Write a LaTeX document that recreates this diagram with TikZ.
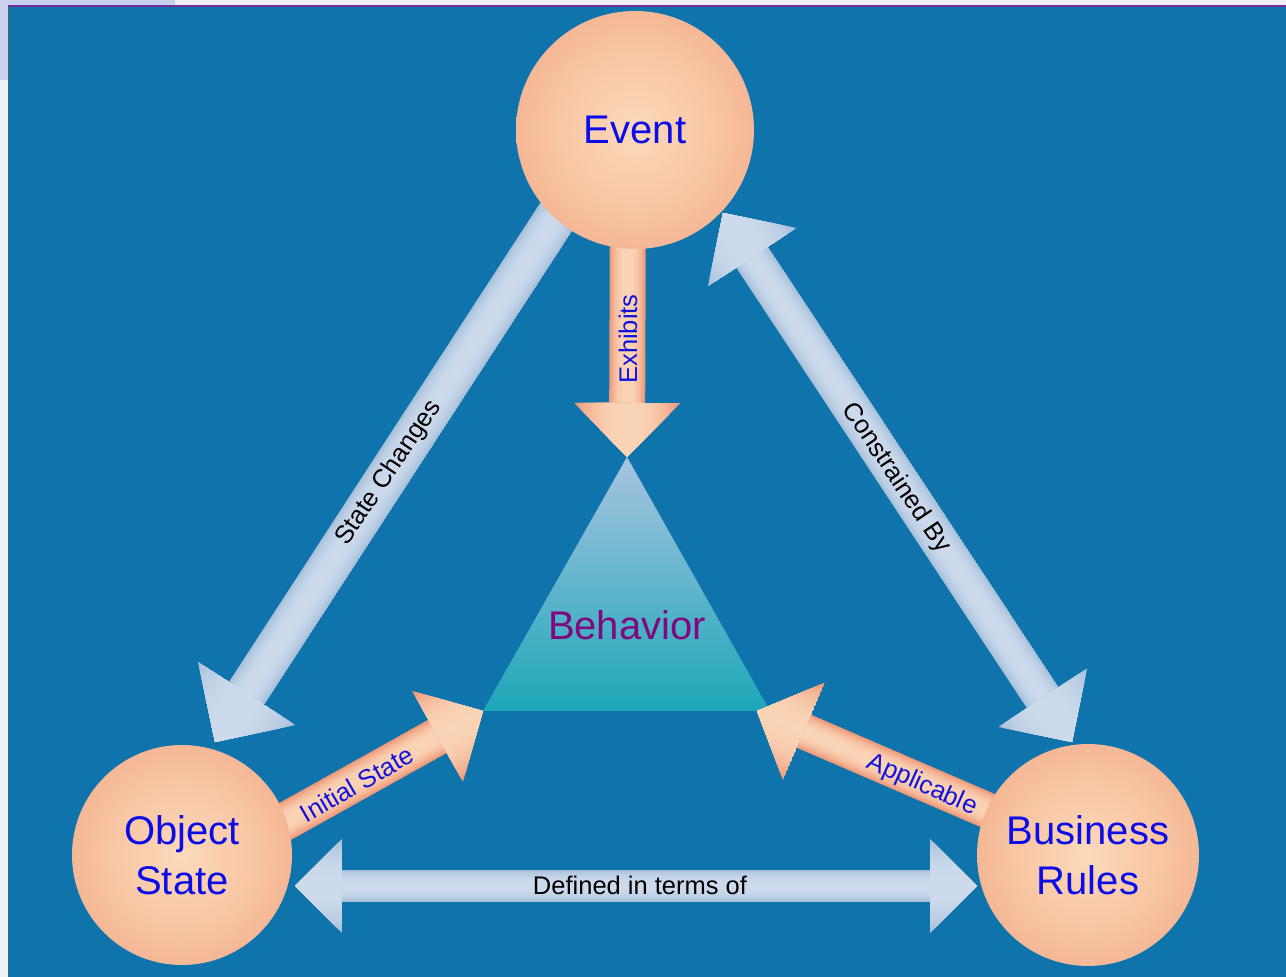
\documentclass[tikz,border=0pt]{standalone}
\usepackage{fontspec}
\setmainfont{Liberation Sans}
\usetikzlibrary{calc}
\definecolor{bgblue}{HTML}{0F74AC}
\definecolor{pagebg}{HTML}{EEF1F8}
\definecolor{cornerbg}{HTML}{C9D1EE}
\definecolor{topline}{HTML}{7B2C9C}
\definecolor{edgeline}{HTML}{505860}
\definecolor{peachC}{HTML}{FCDABA}
\definecolor{peachA}{HTML}{F8C6A4}
\definecolor{peachM}{HTML}{F1A684}
\definecolor{peachE}{HTML}{E88C6C}
\definecolor{salC}{HTML}{FAD4B6}
\definecolor{salE}{HTML}{EE9878}
\definecolor{skyC}{HTML}{CCDAEC}
\definecolor{skyE}{HTML}{A8C0DA}
\definecolor{triTop}{HTML}{A8C4E0}
\definecolor{triMid}{HTML}{5CB4CC}
\definecolor{triBot}{HTML}{1CA7B8}
\definecolor{lblblue}{HTML}{1212DC}
\definecolor{nodeblue}{HTML}{0C0CE8}
\definecolor{behpurple}{HTML}{82067E}
\pgfdeclareradialshading{ballshade}{\pgfpoint{0bp}{0bp}}{color(0bp)=(peachC); color(16bp)=(peachA); color(36bp)=(peachM); color(50bp)=(peachE)}
\makeatletter
% gradient across the arrow axis: lines from #1 to #2, half width #3
\newcommand\fagrad[5]{%
  \foreach \k in {0,...,15}{%
    \pgfmathsetmacro\faW{2*#3*(1-\k/16)}%
    \pgfmathtruncatemacro\faP{100*(1-(1-\k/15)^2.4)}%
    \draw[line width=\faW pt, color=#4!\faP!#5] (#1,0) -- (#2,0);
  }}
% #1 tail, #2 tip, #3 shaft half width, #4 head half width, #5 head length,
% #6 centre colour, #7 edge colour, #8 double (1) or single (0)
\newcommand\fatarrow[8]{%
  \pgfpointdiff{\pgfpointanchor{#1}{center}}{\pgfpointanchor{#2}{center}}%
  \edef\faDx{\the\pgf@x}\edef\faDy{\the\pgf@y}%
  \pgfmathsetmacro\faAng{atan2(\faDy,\faDx)}%
  \pgfmathsetmacro\faLen{veclen(\faDx,\faDy)}%
  \pgfmathsetmacro\faB{\faLen-#5}%
  \ifnum#8=1 \def\faA{#5}\else\def\faA{0}\fi
  \begin{scope}[shift={(#1)},rotate=\faAng]
    \begin{scope}
      \clip (\faA-1,-#3) -- (\faB+1,-#3) -- (\faB+1,#3) -- (\faA-1,#3) -- cycle;
      \fagrad{\faA-1}{\faB+1}{#3}{#6}{#7}
    \end{scope}
    \begin{scope}
      \clip (\faB,-#4) -- (\faLen,0) -- (\faB,#4) -- cycle;
      \fagrad{\faB}{\faLen}{#4}{#6}{#7}
    \end{scope}
    \ifnum#8=1
    \begin{scope}
      \clip (#5,-#4) -- (0,0) -- (#5,#4) -- cycle;
      \fagrad{0}{#5}{#4}{#6}{#7}
    \end{scope}
    \fi
  \end{scope}}
\makeatother
\tikzset{
  ball/.style={circle, shade, shading=ballshade, inner sep=0pt,
    font=\fontsize{40}{50}\selectfont, text=nodeblue, align=center},
  lbl/.style={inner sep=0pt, font=\fontsize{25.5}{25.5}\selectfont},
  bluelbl/.style={lbl, text=lblblue},
  blacklbl/.style={lbl, text=black},
}
\begin{document}
\begin{tikzpicture}[x=1pt,y=1pt]
\useasboundingbox (0,0) rectangle (1286,977);
% page and frame
\fill[pagebg] (0,0) rectangle (1286,977);
\fill[cornerbg] (0,897) rectangle (175,977);
\fill[bgblue] (8,0) rectangle (1286,972);
\draw[topline, line width=2pt] (8,971) -- (1286,971);
\draw[edgeline, line width=1.2pt] (8.6,0) -- (8.6,972);

% node positions
\coordinate (evc) at (635,847);
\coordinate (osc) at (182,122);
\coordinate (brc) at (1088,122);

% behaviour triangle
\coordinate (apex) at (627,520);
\coordinate (bl) at (483,266);
\coordinate (br) at (770,266);
\shade[top color=triTop, middle color=triMid, bottom color=triBot] (apex) -- (bl) -- (br) -- cycle;
\node[font=\fontsize{40}{40}\selectfont, text=behpurple, inner sep=0pt] (beh) at (627,352) {Behavior};

% arrow end points
\coordinate (exT) at (628,800);
\coordinate (isT) at (209,113);
\coordinate (apT) at (1070,131);
\coordinate (apH) at (757,266);
\coordinate (scT) at (588,809);
\coordinate (scH) at (215,235);
\coordinate (cbA) at (723,764);
\coordinate (cbB) at (1072,235);
\coordinate (dfA) at (295,91);
\coordinate (dfB) at (977,91);

% light blue connectors
\fatarrow{scT}{scH}{21}{58}{58}{skyC}{skyE}{0}
\fatarrow{cbA}{cbB}{19}{53}{53}{skyC}{skyE}{1}
\fatarrow{dfA}{dfB}{16}{47}{47}{skyC}{skyE}{1}
% salmon connectors
\fatarrow{exT}{apex}{18}{53}{54}{salC}{salE}{0}
\fatarrow{isT}{bl}{19}{52}{52}{salC}{salE}{0}
\fatarrow{apT}{apH}{18}{53}{51}{salC}{salE}{0}

% circles
\node[ball, minimum size=238pt] (event) at (evc) {Event};
\node[ball, minimum size=220pt] (objstate) at (osc) {Object\\State};
\node[ball, minimum size=222pt] (bizrules) at (brc) {Business\\Rules};

% labels
\node[bluelbl, rotate=90] (lex) at (628,638) {Exhibits};
\node[bluelbl, rotate=30] (lis) at (357,193) {Initial State};
\node[bluelbl, rotate=-24] (lap) at (922,192) {Applicable};
\node[blacklbl, rotate=56] (lsc) at (389,504) {State Changes};
\node[blacklbl, rotate=-56] (lcb) at (896,499) {Constrained By};
\node[blacklbl] (ldf) at (640,92) {Defined in terms of};
\end{tikzpicture}
\end{document}
